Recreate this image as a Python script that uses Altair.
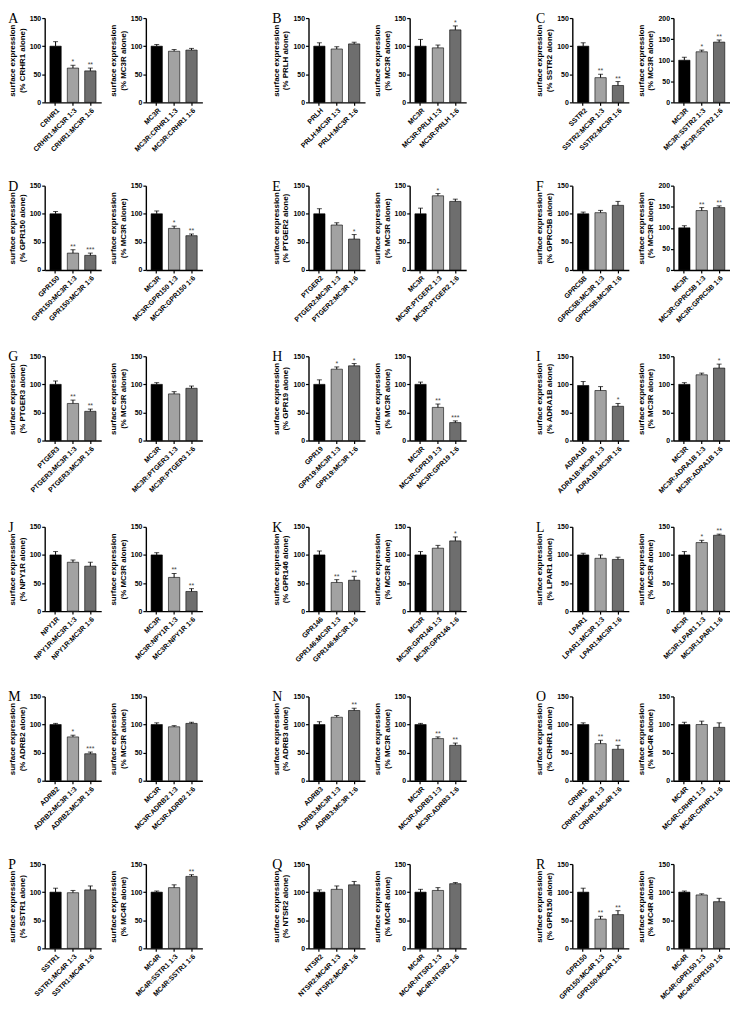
import altair as alt
import pandas as pd

letters = list("ABCDEFGHIJKLMNOPQR")
partners = ["CRHR1", "PRLH", "SSTR2", "GPR150", "PTGER2", "GPRC5B",
            "PTGER3", "GPR19", "ADRA1B", "NPY1R", "GPR146", "LPAR1",
            "ADRB2", "ADRB3", "CRHR1", "SSTR1", "NTSR2", "GPR150"]
melano = ["MC3R"] * 14 + ["MC4R"] * 4

partner_mean = [[100, 61, 56], [100, 95, 104], [100, 44, 30], [100, 30, 26],
                [100, 80, 55], [100, 102, 115], [100, 66, 52], [100, 127, 133],
                [98, 89, 61], [100, 87, 80], [100, 51, 55], [100, 94, 92],
                [100, 78, 48], [100, 113, 125], [100, 66, 56], [100, 99, 104],
                [100, 105, 113], [100, 52, 60]]
partner_sem = [[8, 5, 5], [6, 4, 3], [6, 6, 7], [4, 6, 4],
               [9, 4, 8], [3, 4, 7], [6, 6, 4], [8, 4, 4],
               [7, 7, 5], [6, 4, 7], [7, 5, 7], [3, 6, 4],
               [2, 3, 3], [5, 3, 4], [3, 6, 7], [7, 4, 7],
               [4, 6, 6], [7, 5, 7]]
partner_sig = [["", "*", "**"], ["", "", ""], ["", "**", "**"], ["", "**", "***"],
               ["", "", "*"], ["", "", ""], ["", "**", "**"], ["", "*", "*"],
               ["", "", "*"], ["", "", ""], ["", "**", "**"], ["", "", ""],
               ["", "*", "***"], ["", "", "**"], ["", "**", "**"], ["", "", ""],
               ["", "", ""], ["", "**", "**"]]

melano_mean = [[100, 91, 93], [100, 97, 129], [100, 120, 143], [100, 74, 61],
               [100, 132, 122], [100, 141, 148], [100, 83, 93], [100, 59, 32],
               [100, 117, 129], [100, 60, 35], [100, 112, 125], [100, 122, 135],
               [100, 96, 102], [100, 75, 63], [100, 100, 95], [100, 108, 128],
               [100, 103, 115], [100, 95, 83]]
melano_sem = [[3, 3, 3], [12, 5, 7], [7, 4, 5], [5, 4, 3],
              [10, 4, 4], [5, 7, 4], [3, 4, 4], [4, 6, 3],
              [3, 3, 7], [4, 7, 5], [6, 5, 7], [6, 4, 2],
              [3, 2, 2], [2, 3, 4], [4, 6, 8], [2, 5, 3],
              [5, 5, 2], [2, 2, 6]]
melano_sig = [["", "", ""], ["", "", "*"], ["", "*", "**"], ["", "*", "**"],
              ["", "*", ""], ["", "**", "**"], ["", "", ""], ["", "**", "***"],
              ["", "", "*"], ["", "**", "**"], ["", "", "*"], ["", "*", "**"],
              ["", "", ""], ["", "**", "**"], ["", "", ""], ["", "", "**"],
              ["", "", ""], ["", "", ""]]
melano_ymax = [150, 150, 200, 150, 150, 200, 150, 150, 150,
               150, 150, 150, 150, 150, 150, 150, 150, 150]
partner_ymax = [150] * 18

bar_colors = ["#000000", "#a2a2a2", "#6e6e6e"]

W, H = 57, 85


def subplot(labels, means, sems, sigs, ytitle, ymax, ttl):
    df = pd.DataFrame({
        "label": labels,
        "mean": means,
        "top": [m + s for m, s in zip(means, sems)],
        "sig": sigs,
        "fill": bar_colors,
    })
    x = alt.X("label:N", sort=labels,
              scale=alt.Scale(paddingInner=0.35, paddingOuter=0.3),
              axis=alt.Axis(title=None, labelAngle=-45))
    yscale = alt.Scale(domain=[0, ymax], nice=False)
    yaxis = alt.Axis(title=ytitle, values=list(range(0, ymax + 1, 50)))
    base = alt.Chart(df).encode(x=x)
    bars = base.mark_bar(stroke="black", strokeWidth=0.6).encode(
        y=alt.Y("mean:Q", scale=yscale, axis=yaxis),
        fill=alt.Fill("fill:N", scale=None))
    rule = base.mark_rule(color="black", strokeWidth=1).encode(
        y=alt.Y("mean:Q", scale=yscale, axis=yaxis), y2="top:Q")
    cap = base.mark_tick(color="black", thickness=1, size=5).encode(
        y=alt.Y("top:Q", scale=yscale, axis=yaxis))
    txt = base.mark_text(baseline="bottom", dy=0, fontSize=7, color="#444444",
                         font="Liberation Sans").encode(
        y=alt.Y("top:Q", scale=yscale, axis=yaxis), text="sig:N")
    return alt.layer(bars, rule, cap, txt).properties(
        width=W, height=H, title=ttl)


panels = []
for i in range(18):
    p, m = partners[i], melano[i]
    left = subplot([p, f"{p}:{m} 1:3", f"{p}:{m} 1:6"],
                   partner_mean[i], partner_sem[i], partner_sig[i],
                   ["surface expression", f"(% {p} alone)"],
                   partner_ymax[i], letters[i])
    right = subplot([m, f"{m}:{p} 1:3", f"{m}:{p} 1:6"],
                    melano_mean[i], melano_sem[i], melano_sig[i],
                    ["surface expression", f"(% {m} alone)"],
                    melano_ymax[i], " ")
    panels.append(alt.hconcat(left, right, spacing=8))

rows = [alt.hconcat(*panels[r * 3:(r + 1) * 3], spacing=70) for r in range(6)]

chart = alt.vconcat(*rows, spacing=27).properties(padding=0).configure_view(
    stroke=None
).configure_axis(
    domainColor="black", domainWidth=1.4, tickColor="black", tickWidth=1.2,
    tickSize=3, labelFont="Liberation Sans", labelFontWeight="bold",
    labelFontSize=7, labelColor="black", labelPadding=1,
    titleFont="Liberation Sans", titleFontWeight="bold", titleFontSize=8,
    titleColor="black", titlePadding=3, grid=False
).configure_title(
    font="Liberation Serif", fontSize=14, fontWeight="normal", anchor="start",
    frame="bounds", offset=-12, color="black"
)

chart.save("out.html", embed_options={"renderer": "svg", "actions": False})
